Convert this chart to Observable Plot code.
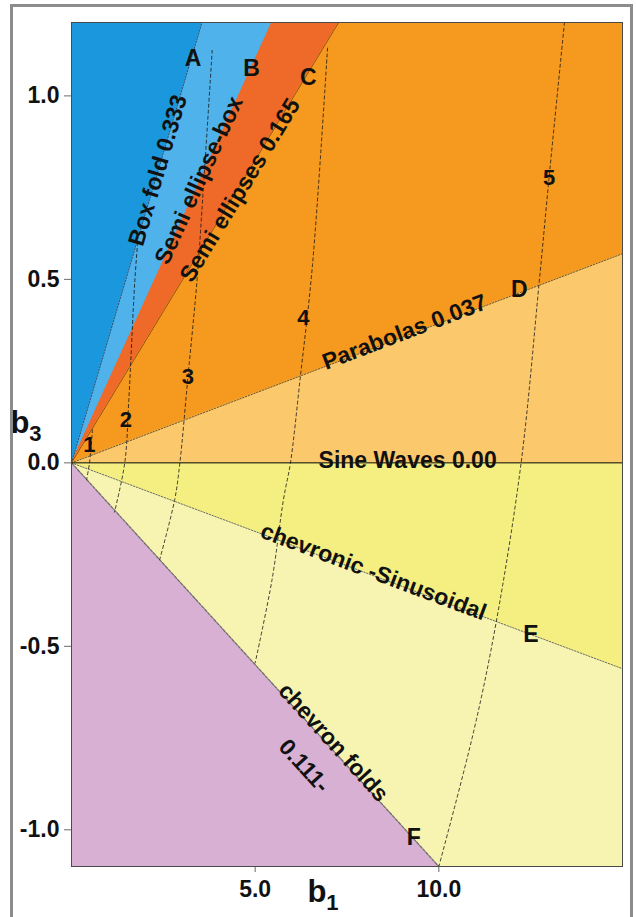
<!DOCTYPE html>
<html><head><meta charset="utf-8">
<script src="https://cdn.jsdelivr.net/npm/d3@7"></script>
<script src="https://cdn.jsdelivr.net/npm/@observablehq/plot@0.6"></script>
<style>
html,body{margin:0;padding:0;background:#fff;}
#wrap{position:relative;width:636px;height:917px;overflow:hidden;}
#border{position:absolute;left:10px;top:4px;width:623px;height:940px;border:3px solid #8c8c8c;box-sizing:border-box;pointer-events:none;}
#chart{position:absolute;left:0;top:0;}
#chart svg{font-family:"Liberation Sans",Arial,sans-serif;}
#chart .tick line, #chart [aria-label$="-axis tick"]{color:#6a6a6a;stroke:#6a6a6a;}
</style></head>
<body><div id="wrap"><div id="chart"></div><div id="border"></div></div>
<script>
// ---- data ----
const b1Domain = [0, 15];
const b3Domain = [-1.1, 1.2];
const b1Ticks = [5, 10];
const b3Ticks = [-1, -0.5, 0, 0.5, 1];

// fold-shape fields, each bounded below by a ray b3 = slope * b1 (null = no lower bound)
const regionNames = ["Chevron folds", "Chevronic (lower)", "Chevronic-sinusoidal", "Sine waves", "Parabolas", "Semi ellipses", "Semi ellipse-box", "Box folds"];
const regionLowerSlope = [null, -0.11, -0.0374, 0, 0.038, 0.165, 0.22, 0.338];
const regionColors = ["#d8b0d3", "#f6f4b0", "#f4ef80", "#fbc86c", "#f5991f", "#ef6a29", "#4fb2ea", "#1b98dd"];

// boundary rays
const boundaryNames = ["chevron folds", "chevronic-sinusoidal", "sine waves", "parabolas", "semi ellipses", "box fold"];
const boundarySlopes = [-0.11, -0.0374, 0, 0.038, 0.165, 0.338];

// dashed iso-curves 1..5 as [b1, b3]
const curve1 = [[0.57, 0.09], [0.49, 0.0], [0.41, -0.046]];
const curve2 = [[1.8, 0.6], [1.72, 0.49], [1.56, 0.171], [1.45, 0.0], [1.17, -0.134]];
const curve3 = [[3.83, 1.124], [3.55, 0.688], [3.42, 0.50], [3.17, 0.234], [2.95, 0.0], [2.81, -0.10], [2.40, -0.264]];
const curve4 = [[6.97, 1.13], [6.56, 0.539], [6.23, 0.234], [5.96, 0.0], [5.77, -0.10], [5.46, -0.318], [5.0, -0.545]];
const curve5 = [[13.42, 1.2], [13.0, 0.776], [12.73, 0.49], [12.24, 0.0], [11.56, -0.435], [10.96, -0.727], [10.0, -1.1]];
const curveNames = ["1", "2", "3", "4", "5"];
const curvePoints = [curve1, curve2, curve3, curve4, curve5];
const curveLabelB1 = [0.49, 1.48, 3.17, 6.31, 13.0];
const curveLabelB3 = [0.049, 0.117, 0.234, 0.395, 0.776];

// labels along boundaries
const lineLabels = ["Box fold 0.333", "Semi ellipse-box", "Semi ellipses 0.165", "Parabolas 0.037", "Sine Waves 0.00", "chevronic -Sinusoidal", "chevron folds", "0.111-"];
const lineLabelSlope = [0.338, 0.22, 0.165, 0.038, 0, -0.0374, -0.11, -0.11];
const lineLabelB1 = [2.35, 3.47, 4.59, 9.07, 9.15, 8.22, 7.13, 6.33];
const lineLabelB3 = [0.797, 0.77, 0.743, 0.356, 0.006, -0.297, -0.762, -0.826];

// end letters of boundaries
const endLetters = ["A", "B", "C", "D", "E", "F"];
const endLetterB1 = [3.31, 4.9, 6.45, 12.19, 12.51, 9.32];
const endLetterB3 = [1.102, 1.075, 1.05, 0.473, -0.468, -1.02];

// ---- layout ----
const W = 636, H = 917, mL = 71, mR = 14, mT = 22, mB = 51;
const pxX = (W - mL - mR) / (b1Domain[1] - b1Domain[0]);
const pxY = (H - mT - mB) / (b3Domain[1] - b3Domain[0]);
const angleOf = k => -Math.atan(k * pxY / pxX) * 180 / Math.PI;
const font = "Liberation Sans, Arial, sans-serif";

const fills = regionNames.map((name, i) =>
  Plot.areaY(b1Domain.map(b1 => ({b1, lo: regionLowerSlope[i] === null ? -10 : regionLowerSlope[i] * b1, hi: 10})),
    {x: "b1", y1: "lo", y2: "hi", fill: regionColors[i], clip: true}));

const lineStyle = {
  "chevron folds": {stroke: "#6e6e6e", strokeWidth: 1.3, strokeDasharray: "3,1.5"},
  "chevronic-sinusoidal": {stroke: "#4a4a4a", strokeWidth: 0.8, strokeDasharray: "1.5,1.5"},
  "sine waves": {stroke: "#000", strokeWidth: 1},
  "parabolas": {stroke: "#4a3510", strokeWidth: 0.8, strokeDasharray: "1.5,1.5"},
  "semi ellipses": {stroke: "#5a2a10", strokeWidth: 0.7, strokeDasharray: "1.5,1"},
  "box fold": {stroke: "#1d3550", strokeWidth: 0.8, strokeDasharray: "1.5,1.5"}
};
const boundaries = boundaryNames.map((name, i) =>
  Plot.line(b1Domain.map(b1 => ({b1, b3: boundarySlopes[i] * b1})),
    {x: "b1", y: "b3", clip: true, ...lineStyle[name]}));

const curveData = curvePoints.flatMap((pts, i) => pts.map(([b1, b3]) => ({curve: curveNames[i], b1, b3})));

const lineLabelData = lineLabels.map((t, i) => ({t, b1: lineLabelB1[i], b3: lineLabelB3[i], a: angleOf(lineLabelSlope[i])}));
const letterData = endLetters.map((t, i) => ({t, b1: endLetterB1[i], b3: endLetterB3[i]}));
const numberData = curveNames.map((t, i) => ({t, b1: curveLabelB1[i], b3: curveLabelB3[i]}));

const chart = Plot.plot({
  width: W, height: H,
  marginLeft: mL, marginRight: mR, marginTop: mT, marginBottom: mB,
  style: {fontFamily: font, fontSize: "23px", fontWeight: "bold", color: "#111", background: "transparent"},
  x: {domain: b1Domain, ticks: b1Ticks, tickFormat: d => d.toFixed(1), tickSize: 6, tickPadding: 8, label: null},
  y: {domain: b3Domain, ticks: b3Ticks, tickFormat: d => d.toFixed(1), tickSize: 7, tickPadding: 5, label: null},
  marks: [
    ...fills,
    ...boundaries,
    Plot.line(curveData, {x: "b1", y: "b3", z: "curve", curve: "catmull-rom", stroke: "#111", strokeWidth: 0.8, strokeDasharray: "3,3", clip: true}),
    Plot.text(lineLabelData, {x: "b1", y: "b3", text: "t", rotate: "a", fontSize: 23, fontWeight: "bold", fill: "#111", fontFamily: font}),
    Plot.text(letterData, {x: "b1", y: "b3", text: "t", fontSize: 23, fontWeight: "bold", fill: "#111", fontFamily: font}),
    Plot.text(numberData, {x: "b1", y: "b3", text: "t", fontSize: 22, fontWeight: "bold", fill: "#111", fontFamily: font}),
    Plot.frame({stroke: "#4a4a4a"})
  ]
});
document.getElementById("chart").appendChild(chart);

// axis titles with subscripts
const svg = d3.select(chart.tagName.toLowerCase() === "svg" ? chart : chart.querySelector("svg"));
function addTitle(x, y, main, sub) {
  const t = svg.append("text").attr("x", x).attr("y", y)
    .attr("font-family", font).attr("font-weight", "bold").attr("fill", "#111");
  t.append("tspan").attr("font-size", 31).text(main);
  t.append("tspan").attr("font-size", 22).attr("dy", 8).text(sub);
}
addTitle(26, 433, "b", "3");
addTitle(323, 902, "b", "1");
</script></body></html>
